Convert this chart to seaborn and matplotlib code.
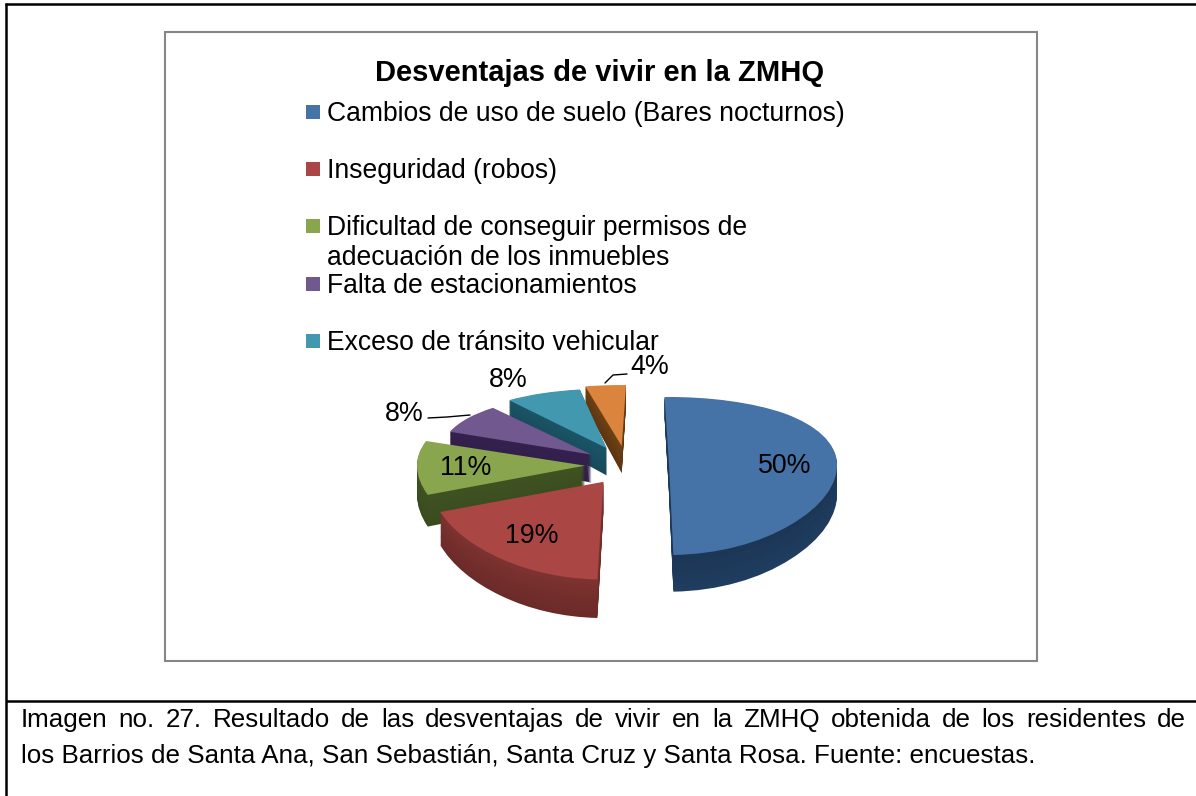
import numpy as np
import matplotlib
matplotlib.use('Agg')
import matplotlib.pyplot as plt
from matplotlib.colors import to_rgb
from matplotlib.patches import Rectangle
import seaborn as sns

# Data
categorias = ['Cambios de uso de suelo (Bares nocturnos)', 'Inseguridad (robos)',
              'Dificultad de conseguir permisos de\nadecuación de los inmuebles',
              'Falta de estacionamientos', 'Exceso de tránsito vehicular', 'Otros']
valores = [50, 19, 11, 8, 8, 4]
colores = ['#4572a7', '#aa4643', '#89a54e', '#71588f', '#4198af', '#db843d']
lados_arriba = ['#1c3655', '#7d3331', '#3f5222', '#35214f', '#1b5568', '#6f4216']
lados_abajo = ['#1f3d60', '#6b2a28', '#3a4c1e', '#2f1d47', '#174a5a', '#5c3510']
titulo = 'Desventajas de vivir en la ZMHQ'
pie_linea1 = 'Imagen no. 27. Resultado de las desventajas de vivir en la ZMHQ obtenida de los residentes de'
pie_linea2 = 'los Barrios de Santa Ana, San Sebastián, Santa Cruz y Santa Rosa. Fuente: encuestas.'

sns.set_theme(style='white')
plt.rcParams['font.family'] = ['Liberation Sans', 'DejaVu Sans']

W, H = 1196, 796
fig = plt.figure(figsize=(W / 100, H / 100), dpi=100, facecolor='white')

# overlay in pixel coords for frames and text
bg = fig.add_axes([0, 0, 1, 1], zorder=1)
bg.set_xlim(0, W)
bg.set_ylim(H, 0)
bg.axis('off')

# outer table lines
bg.plot([6, 6], [3.3, H], color='black', lw=1.8, solid_capstyle='butt')
bg.plot([5.2, W], [4, 4], color='black', lw=1.8, solid_capstyle='butt')
bg.plot([6, W], [701, 701], color='black', lw=1.8, solid_capstyle='butt')
bg.add_patch(Rectangle((165, 32), 872, 629, fill=False, ec='#868686', lw=1.5))

# pie axes, y scale gives the perspective look
cx, cy, rx = 627, 465, 168
top, bottom = 350, 650
left, right = 300, 950


def forward(y):
    return 79 * np.asarray(y, dtype=float) - 11 * np.asarray(y, dtype=float) ** 2


def inverse(v):
    return (79 - np.sqrt(np.maximum(79 ** 2 - 44 * np.asarray(v, dtype=float), 0))) / 22


ax = fig.add_axes([left / W, 1 - bottom / H, (right - left) / W, (bottom - top) / H], zorder=2)
ax.patch.set_alpha(0)

explode = [0.25] * len(valores)
giro = [1.5, -2, -1, -2.5, -4.5, -1.5]  # small turn per slice, the 3d view skews them
escala = [1, 1.03, 1, 0.9, 0.93, 0.97]  # back slices look smaller
orden = [5, 4, 3, 2, 1, 0]  # back to front
depth = 0.35
capas = 30
for c in range(capas + 1):
    k = c / capas
    if c == capas:
        cols = colores
    else:
        cols = [tuple((1 - k) * np.array(to_rgb(b)) + k * np.array(to_rgb(a)))
                for a, b in zip(lados_arriba, lados_abajo)]
    wedges, _ = ax.pie(valores, explode=explode, colors=cols, startangle=90, counterclock=False,
                       center=(0, -depth * (1 - k)), radius=1)
    for i, w in enumerate(wedges):
        w.set_theta1(w.theta1 + giro[i])
        w.set_theta2(w.theta2 + giro[i])
        w.set_radius(escala[i])
        w.set_zorder(orden.index(i) * 100 + c)
        w.set_linewidth(0)

ax.set_aspect('auto')
ax.set_yscale('function', functions=(forward, inverse))
ax.set_xlim((left - cx) / rx, (right - cx) / rx)
ax.set_ylim(float(inverse(cy - bottom)), float(inverse(cy - top)))
ax.axis('off')

# text on top
fg = fig.add_axes([0, 0, 1, 1], zorder=3)
fg.set_xlim(0, W)
fg.set_ylim(H, 0)
fg.axis('off')
fg.patch.set_alpha(0)

fg.text(600, 73, titulo, ha='center', va='center', fontsize=21, fontweight='bold', color='black')

# legend, Excel style even slots
leg_y = [112, 169, 226, 284, 341]
for cat, col, y in zip(categorias[:5], colores[:5], leg_y):
    fg.add_patch(Rectangle((306, y - 7), 14, 14, fc=col, ec='none'))
    lineas = cat.split('\n')
    for j, linea in enumerate(lineas):
        fg.text(327, y + 2 + j * 30, linea, ha='left', va='center', fontsize=19.1, color='black')

# percent labels
pos_pct = [(785, 466), (532, 536), (466, 468), (404, 414), (508, 380), (650, 367)]
for v, (x, y) in zip(valores, pos_pct):
    fg.text(x, y, f'{v}%', ha='center', va='center', fontsize=19.3, color='black')

# leader lines
fg.plot([605, 613, 627], [383, 375, 374], color='black', lw=1)
fg.plot([428, 447, 470], [418, 417, 415], color='black', lw=1)

# caption, first line is justified
fig.canvas.draw()
renderer = fig.canvas.get_renderer()
palabras = pie_linea1.split(' ')
medidas = []
for p in palabras:
    t = fg.text(0, 0, p, fontsize=18.7)
    medidas.append(t.get_window_extent(renderer).width)
    t.remove()
hueco = (1186 - 21 - sum(medidas)) / (len(palabras) - 1)
x = 21
for p, m in zip(palabras, medidas):
    fg.text(x, 720, p, ha='left', va='center', fontsize=18.7, color='black')
    x += m + hueco
fg.text(21, 756, pie_linea2, ha='left', va='center', fontsize=18.7, color='black')

fig.savefig('out.png', dpi=100)
